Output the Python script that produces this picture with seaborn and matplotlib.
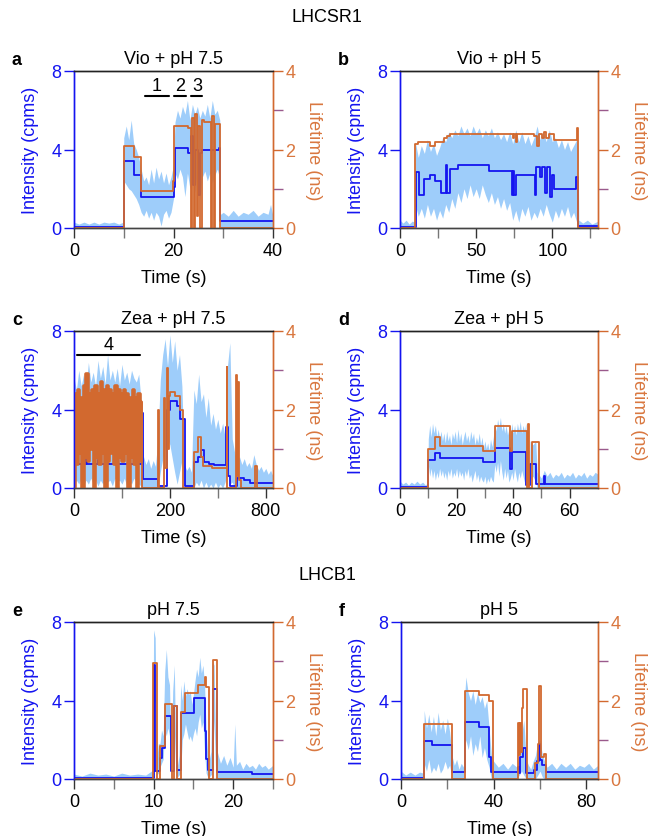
import numpy as np
import matplotlib
matplotlib.use("Agg")
import matplotlib.pyplot as plt
import seaborn as sns

sns.set_style("ticks")
plt.rcParams['font.family'] = ['Liberation Sans', 'DejaVu Sans']
plt.rcParams['text.color'] = 'black'
plt.rcParams['axes.labelcolor'] = 'black'
plt.rcParams['xtick.labelcolor'] = 'black'

LIGHT = "#9ECDFA"
BLUE = "#1414F0"
ORANGE = "#D2692F"
ORANGE_TXT = "#D9773F"
PURPLE = "#9A5A8C"

# ---------------- panel a : Vio + pH 7.5 ----------------
a_noise = [(0, 0, 0.3), (1, 0, 0.2), (2, 0, 0.3), (3, 0, 0.2), (4, 0, 0.3), (5, 0, 0.2), (6, 0, 0.3),
           (7, 0, 0.25), (8, 0, 0.3), (9, 0, 0.2), (9.9, 0, 0.3),
           (10.0, 2.4, 4.6), (10.5, 2.2, 5.2), (11, 2.0, 4.5), (11.5, 1.9, 5.5), (12, 1.7, 4.3),
           (12.5, 1.5, 4.0), (13, 1.2, 3.6), (13.5, 0.8, 3.0), (14, 0.6, 2.4), (14.5, 0.9, 2.6),
           (15, 0.5, 2.2), (15.5, 0.8, 3.0), (16, 0.4, 2.3), (16.5, 0.8, 3.1), (17, 0.6, 2.5),
           (17.5, 0.1, 2.9), (18, 0.7, 2.3), (18.5, 0.9, 2.8), (19, 0.5, 2.2), (19.5, 0.8, 2.6),
           (20, 1.5, 3.2), (20.3, 2.8, 5.4), (20.8, 2.5, 6.0), (21.3, 3.0, 5.6), (21.8, 2.6, 6.2),
           (22.3, 1.6, 5.8), (22.8, 2.8, 6.5), (23.3, 2.0, 5.5), (23.8, 2.6, 6.3), (24.3, 1.8, 5.8),
           (24.8, 2.9, 6.2), (25.3, 1.4, 5.6), (25.8, 2.6, 6.0), (26.3, 2.9, 5.7), (26.8, 2.4, 6.3),
           (27.3, 2.8, 5.6), (27.8, 2.3, 6.5), (28.3, 2.7, 5.8), (28.8, 3.0, 6.0), (29.3, 2.5, 5.5),
           (29.45, 0, 0.7), (30, 0, 0.8), (31, 0, 0.6), (32, 0, 0.9), (33, 0, 0.6), (34, 0, 0.8),
           (35, 0, 0.7), (36, 0, 0.9), (37, 0, 0.6), (38, 0, 0.8), (39, 0, 0.7), (39.5, 0, 1.2), (40, 0, 0.6)]
a_blue_t = [0, 10, 12, 13.5, 20, 20.3, 23, 23.5, 23.9, 24.3, 25.0, 25.3, 25.8, 29.1, 29.4, 40]
a_blue_v = [0.05, 3.4, 2.7, 1.6, 2.1, 4.1, 3.8, 4.7, 2.2, 4.0, 1.7, 3.8, 3.95, 4.1, 0.35, 0.35]
a_or_t = [0, 10, 12, 13.5, 19.8, 20.2, 23, 23.5, 23.8, 24.1, 24.4, 24.7, 25.0, 25.4, 25.8, 26.2,
          27.5, 27.8, 28.1, 28.3, 29.3, 40]
a_or_v = [0, 2.1, 1.8, 0.95, 1.2, 2.6, 2.55, 0, 2.8, 0, 2.9, 0.3, 2.6, 0, 2.75, 2.7,
          0, 2.85, 0, 2.65, 0, 0]

# ---------------- panel b : Vio + pH 5 ----------------
b_noise = [(0, 0, 0.4), (2, 0, 0.25), (4, 0, 0.4), (6, 0, 0.2), (8, 0, 0.35), (9.8, 0, 0.3),
           (10, 1.2, 4.4), (12, 0.6, 3.6), (14, 1.0, 4.2), (16, 0.5, 3.8), (18, 1.2, 4.5),
           (20, 0.6, 3.9), (22, 1.0, 4.3), (24, 0.4, 3.7), (26, 0.9, 4.1), (28, 0.5, 4.6),
           (30, 1.2, 4.4), (32, 0.8, 4.9), (34, 1.5, 4.6), (36, 1.0, 5.0), (38, 1.8, 4.7),
           (40, 1.3, 5.2), (42, 2.0, 4.8), (44, 1.5, 5.1), (46, 2.2, 4.7), (48, 1.6, 5.2),
           (50, 2.0, 4.8), (52, 1.5, 5.1), (54, 2.2, 4.6), (56, 1.7, 5.0), (58, 1.3, 4.7),
           (60, 1.8, 5.1), (62, 1.2, 4.6), (64, 1.6, 4.9), (66, 1.0, 4.5), (68, 1.5, 4.8),
           (70, 0.9, 4.4), (72, 1.3, 4.9), (74, 0.4, 4.3), (76, 0.9, 5.0), (78, 0.3, 4.4),
           (80, 1.0, 4.9), (82, 0.6, 4.3), (84, 1.1, 4.7), (86, 0.4, 4.2), (88, 0.8, 4.6),
           (90, 0.5, 5.2), (92, 1.0, 4.5), (94, 0.6, 4.9), (96, 1.2, 4.4), (98, 0.7, 5.0),
           (100, 0.3, 4.4), (102, 0.9, 4.6), (104, 0.5, 4.1), (106, 1.0, 4.5), (108, 0.6, 4.0),
           (110, 1.1, 4.4), (112, 0.5, 3.9), (114, 0.8, 4.2), (116, 0.3, 4.5), (117, 0.2, 4.0),
           (117.4, 0, 0.4), (120, 0, 0.25), (123, 0, 0.4), (126, 0, 0.2), (130, 0, 0.35)]
b_blue_t = [0, 10.4, 12.4, 15.9, 20, 23.3, 27.2, 30, 31, 32.6, 38, 58.7, 73.5, 74.2, 75, 76, 77,
            88.5, 89.5, 92, 93.5, 95.5, 96.5, 98.5, 99.5, 101, 115.7, 117, 130]
b_blue_v = [0.05, 2.85, 1.7, 2.5, 2.7, 2.4, 1.8, 3.2, 1.8, 3.0, 3.2, 2.9, 1.7, 2.9, 1.7, 2.7, 2.7,
            1.7, 3.1, 2.6, 3.1, 1.8, 3.1, 1.6, 2.7, 2.0, 2.6, 0.1, 0.1]
b_or_t = [0, 10, 12, 20, 23, 29, 31, 33, 74, 75, 76, 77, 78, 88, 89, 90, 91, 93, 94.5, 96, 98, 101,
          116.5, 117, 130]
b_or_v = [0, 2.15, 2.2, 2.1, 2.2, 2.3, 2.35, 2.4, 2.3, 2.4, 2.2, 2.4, 2.4, 2.35, 2.35, 2.1, 2.4, 2.3,
          2.45, 2.3, 2.4, 2.25, 2.55, 0, 0]

# ---------------- panel c : Zea + pH 7.5 ----------------
c_noise = [(0, 0.1, 5.6), (5, 0.4, 5.0), (10, 0.2, 6.0), (15, 0.5, 5.2), (20, 0.1, 5.8), (25, 0.4, 5.1),
           (30, 0.2, 6.4), (35, 0.5, 5.4), (40, 0.2, 5.9), (45, 0.4, 5.2), (50, 0.1, 6.5), (55, 0.4, 5.6),
           (60, 0.2, 6.2), (65, 0.5, 5.3), (70, 0.3, 6.8), (75, 0.4, 5.5), (80, 0.1, 6.0), (85, 0.5, 5.4),
           (90, 0.3, 6.1), (95, 0.4, 5.2), (100, 0.2, 6.3), (105, 0.5, 5.5), (110, 0.1, 5.9),
           (115, 0.4, 5.3), (120, 0.2, 6.0), (125, 0.5, 5.6), (130, 0.3, 5.4), (135, 0.2, 5.8),
           (140, 0.1, 4.4), (145, 0, 1.6), (150, 0, 1.2), (155, 0, 1.5), (160, 0, 1.0), (165, 0, 1.4),
           (170, 0, 1.1), (175, 0, 2.6), (180, 0.8, 5.5), (185, 1.5, 6.8), (190, 2.0, 7.6),
           (195, 2.5, 6.2), (200, 2.2, 7.8), (205, 1.5, 6.4), (210, 0.8, 7.5), (215, 0.2, 6.0),
           (220, 0.8, 6.8), (225, 1.4, 5.2), (230, 0, 1.2), (235, 0, 0.9), (240, 0, 1.1), (245, 0, 0.8),
           (250, 0, 5.0), (255, 0.3, 4.3), (260, 0.1, 5.8), (265, 0.4, 4.4), (270, 0, 4.8),
           (275, 0.3, 3.6), (280, 0, 4.6), (285, 0.2, 3.2), (290, 0, 3.8), (295, 0.3, 3.0),
           (300, 0, 3.5), (305, 0.2, 2.8), (310, 0, 3.3), (315, 0.3, 2.6), (320, 0.8, 6.2),
           (325, 0.2, 7.4), (330, 0.3, 2.5), (335, 0, 1.8), (340, 0, 1.4), (345, 0, 1.6), (350, 0, 1.2),
           (355, 0, 1.5), (360, 0, 1.1), (365, 0, 1.3), (370, 0, 1.0), (375, 0, 1.7), (380, 0, 1.2),
           (385, 0, 0.9), (390, 0, 1.1), (395, 0, 0.8), (400, 0, 1.0), (405, 0, 0.7), (410, 0, 0.9),
           (415, 0, 0.6)]
c_blue_t = [0, 25, 27, 50, 52, 88, 90, 130, 132, 141, 144, 176, 193, 200, 215, 222, 231, 250, 258, 264,
            271, 281, 292, 318, 321, 325, 340, 355, 368, 415]
c_blue_v = [1.2, 1.5, 1.2, 1.45, 1.2, 1.4, 1.2, 1.45, 1.2, 3.8, 0.45, 0.1, 4.0, 4.45, 4.2, 3.5, 0.1, 1.3,
            1.6, 1.95, 1.35, 1.2, 1.15, 3.1, 0.6, 0.1, 0.5, 0.4, 0.25, 0.25]
# fast flickering lifetime in the first 140 s
c_or_dense_t = [0, 2, 5, 8, 11, 14, 17, 20, 23, 26, 29, 32, 35, 38, 41, 44, 47, 50, 53, 56, 59, 62, 65,
                68, 71, 74, 77, 80, 83, 86, 89, 92, 95, 98, 101, 104, 107, 110, 113, 116, 119, 122, 125,
                128, 131, 134, 137, 140]
c_or_dense_v = [0, 2.4, 0.6, 2.5, 0.9, 2.3, 0, 2.6, 0.8, 2.9, 0.7, 2.4, 1.0, 2.5, 0, 2.6, 0.8, 2.4, 0.6,
                2.7, 0.9, 2.5, 0, 2.6, 0.7, 2.5, 0.9, 2.4, 0.6, 2.6, 0, 2.5, 0.8, 2.4, 0.7, 2.5, 0.9, 2.4,
                0, 2.3, 0.8, 2.5, 0.6, 2.3, 0, 2.4, 0.7, 2.2]
c_or_t = [140, 141, 176, 178, 188, 190, 193, 195, 198, 200, 211, 221, 228, 250, 258, 264, 270, 288, 319,
          320, 323, 338, 340, 343, 345, 349, 378, 381, 415]
c_or_v = [2.2, 0, 2.0, 0, 2.3, 0.5, 3.06, 1.0, 2.35, 2.45, 2.34, 2.0, 0, 0.91, 1.3, 0.78, 0.57, 0.5, 3.09,
          0, 0, 2.89, 0.3, 2.7, 0.2, 0, 0.55, 0, 0]

# ---------------- panel d : Zea + pH 5 ----------------
d_noise = [(0, 0, 0.35), (1, 0, 0.2), (2, 0, 0.3), (3, 0, 0.15), (4, 0, 0.3), (5, 0, 0.2), (6, 0, 0.35),
           (7, 0, 0.2), (8, 0, 0.3), (9, 0, 0.15), (9.9, 0, 0.3),
           (10, 1.2, 2.5), (10.5, 0.6, 3.2), (11, 1.0, 2.6), (11.5, 0.5, 3.3), (12, 0.9, 2.8),
           (12.5, 0.4, 3.2), (13, 0.8, 2.6), (13.5, 0.5, 3.0), (14, 1.0, 2.5), (14.5, 0.6, 2.9),
           (15, 0.9, 2.4), (15.5, 0.5, 2.8), (16, 0.8, 2.3), (16.5, 0.4, 2.9), (17, 0.9, 2.4),
           (17.5, 0.6, 2.7), (18, 1.0, 2.2), (18.5, 0.5, 2.8), (19, 0.8, 2.5), (19.5, 0.6, 2.9),
           (20, 1.0, 2.3), (20.5, 0.5, 3.0), (21, 0.9, 2.4), (21.5, 0.6, 2.8), (22, 0.8, 2.2),
           (22.5, 0.4, 2.6), (23, 0.9, 2.9), (23.5, 0.6, 2.4), (24, 1.0, 2.7), (24.5, 0.5, 2.3),
           (25, 0.7, 2.9), (25.5, 0.3, 2.5), (26, 0.6, 2.8), (26.5, 0.9, 2.2), (27, 0.4, 2.6),
           (27.5, 0.7, 2.3), (28, 0.3, 2.8), (28.5, 0.6, 2.2), (29, 0.4, 2.6), (29.5, 0.3, 2.0),
           (30, 0.6, 2.4), (30.5, 0.2, 2.0), (31, 0.5, 2.3), (31.5, 0.3, 1.9), (32, 0.6, 2.5),
           (32.5, 0.4, 2.1), (33, 0.3, 2.6), (33.5, 1.2, 3.3), (34, 0.8, 2.9), (34.5, 1.3, 3.5),
           (35, 0.6, 3.1), (35.5, 1.4, 3.6), (36, 0.8, 2.9), (36.5, 0.4, 3.3), (37, 1.0, 2.8),
           (37.5, 0.5, 3.2), (38, 0.9, 2.7), (38.5, 0.3, 3.0), (39, 0.5, 2.4), (39.5, 0.8, 3.3),
           (40, 0.4, 2.8), (40.5, 1.0, 3.2), (41, 0.6, 2.7), (41.5, 0.3, 3.3), (42, 0.8, 2.9),
           (42.5, 0.5, 3.4), (43, 0.9, 2.8), (43.5, 0.6, 3.2), (44, 0.3, 2.9), (44.5, 0.7, 3.3),
           (45, 0, 0.3), (45.8, 0, 0.3), (46, 0.4, 2.4), (47, 0.6, 2.2), (48, 0.3, 2.4), (48.5, 0, 0.8),
           (49, 0, 0.7), (50, 0, 0.5), (51, 0, 0.9), (52, 0, 0.6), (53, 0, 0.8), (54, 0, 0.5),
           (55, 0, 0.7), (56, 0, 0.6), (57, 0, 0.8), (58, 0, 0.5), (59, 0, 0.7), (60, 0, 0.6),
           (61, 0, 0.8), (62, 0, 0.5), (63, 0, 0.7), (64, 0, 0.6), (65, 0, 0.8), (66, 0, 0.5),
           (67, 0, 0.7), (68, 0, 0.6), (69, 0, 0.8), (70, 0, 0.7)]
d_blue_t = [0, 10, 12.5, 14, 29.5, 33.5, 39, 39.6, 44.5, 46, 48, 51, 51.4, 70]
d_blue_v = [0.05, 1.45, 1.8, 1.55, 1.3, 2.05, 0.95, 1.85, 0.15, 1.2, 0.2, 0.6, 0.2, 0.2]
d_or_t = [0, 10, 12.5, 14, 29.5, 33.5, 39, 39.6, 45, 45.3, 45.6, 46.5, 49, 70]
d_or_v = [0, 1.0, 1.3, 1.07, 0.94, 1.57, 0.95, 1.44, 0, 1.64, 0, 1.17, 0, 0]

# ---------------- panel e : LHCB1 pH 7.5 ----------------
e_noise = [(0, 0, 0.25), (1, 0, 0.15), (2, 0, 0.3), (3, 0, 0.2), (4, 0, 0.25), (5, 0, 0.15), (6, 0, 0.3),
           (7, 0, 0.2), (8, 0, 0.25), (9, 0, 0.2), (9.9, 0, 0.45),
           (10.0, 3.5, 7.6), (10.2, 4.0, 7.2), (10.4, 0.2, 1.0), (10.6, 0.3, 1.8), (10.8, 0.6, 1.8),
           (11.0, 0.8, 2.5), (11.2, 1.0, 2.2), (11.4, 2.5, 5.5), (11.6, 2.2, 6.6), (11.8, 2.6, 5.2),
           (12.0, 2.2, 4.8), (12.2, 0.1, 0.8), (12.4, 2.8, 4.5), (12.6, 2.6, 5.8), (12.8, 0.2, 1.0),
           (13.0, 0.1, 0.7), (13.2, 0.2, 1.2), (13.4, 0.3, 4.8), (13.6, 2.0, 4.0), (13.8, 2.3, 5.0),
           (14.0, 2.8, 4.2), (14.2, 2.4, 4.6), (14.4, 2.0, 4.3), (14.6, 2.2, 4.5), (14.8, 1.9, 3.8),
           (15.0, 2.3, 4.3), (15.2, 2.6, 5.0), (15.4, 2.2, 5.6), (15.6, 2.9, 5.2), (15.8, 3.3, 6.2),
           (16.0, 2.6, 5.4), (16.2, 2.9, 5.8), (16.4, 1.4, 4.8), (16.6, 0.3, 2.5), (16.8, 0.1, 1.2),
           (17.0, 0.1, 1.0), (17.2, 0.2, 1.4), (17.4, 0.3, 6.0), (17.6, 3.0, 5.8), (17.8, 0.3, 1.6),
           (18.0, 0, 1.4), (18.4, 0, 0.8), (18.8, 0, 1.2), (19.2, 0, 0.7), (19.6, 0, 1.1), (20.0, 0, 0.6),
           (20.2, 0, 2.8), (20.4, 0, 0.7), (20.8, 0, 0.9), (21.2, 0, 0.5), (21.6, 0, 0.8), (22.0, 0, 0.6),
           (22.4, 0, 0.7), (22.8, 0, 0.5), (23.2, 0, 0.8), (23.6, 0, 0.6), (24.0, 0, 0.7), (24.4, 0, 0.5),
           (25.0, 0, 0.7)]
e_blue_t = [0, 10, 10.2, 10.8, 11.1, 11.45, 12.2, 12.5, 12.9, 13.5, 15.1, 16.4, 16.6, 16.8, 17.5, 18.0,
            22.4, 25]
e_blue_v = [0.05, 5.8, 0.4, 1.07, 1.6, 3.2, 0.4, 3.73, 0.45, 3.35, 4.15, 2.45, 1.0, 0.47, 4.6, 0.37,
            0.25, 0.25]
e_or_t = [0, 9.9, 10.4, 10.75, 11.4, 12.3, 12.6, 12.9, 13.5, 13.9, 15.6, 16.4, 16.55, 16.9, 17.5, 18.0, 25]
e_or_v = [0, 2.95, 0, 0.85, 1.9, 0, 1.85, 0, 1.7, 2.2, 2.4, 2.6, 2.35, 0, 3.03, 0, 0]

# ---------------- panel f : LHCB1 pH 5 ----------------
f_noise = [(0, 0, 0.4), (2, 0, 0.2), (4, 0, 0.35), (6, 0, 0.2), (8, 0, 0.35), (9.8, 0, 0.3),
           (10, 0.8, 3.5), (11, 0.4, 2.6), (12, 1.0, 3.3), (13, 0.3, 2.4), (14, 0.6, 3.2), (15, 0.4, 2.2),
           (16, 0.8, 3.4), (17, 0.3, 2.5), (18, 0.5, 3.0), (19, 0.9, 2.3), (20, 0.5, 3.1), (21, 0.7, 2.4),
           (22, 0, 1.2), (23, 0, 0.7), (24, 0, 1.0), (25, 0, 0.5), (26, 0, 0.8), (27, 0, 0.6),
           (27.5, 1.5, 4.3), (28, 2.0, 5.2), (29, 1.5, 4.4), (30, 2.2, 4.0), (31, 1.2, 4.5), (32, 1.8, 3.8),
           (33, 1.4, 4.4), (34, 2.2, 3.9), (35, 1.1, 4.2), (36, 1.6, 3.6), (37, 1.0, 4.0), (38, 0.6, 2.6),
           (39, 0, 1.2), (40, 0, 0.9), (42, 0, 0.6), (44, 0, 0.8), (46, 0, 0.5), (48, 0, 0.8), (50, 0, 0.6),
           (51, 0.2, 1.2), (52, 0.4, 2.2), (53, 0.2, 3.0), (54, 0, 1.0), (55, 0, 0.7), (56, 0, 0.5),
           (57, 0, 0.9), (58, 0, 1.2), (59, 0.2, 1.9), (60, 0.4, 2.0), (61, 0.1, 1.2), (62, 0, 0.9),
           (63, 0, 0.6), (65, 0, 0.8), (67, 0, 0.5), (69, 0, 0.8), (71, 0, 0.6), (73, 0, 0.8), (75, 0, 0.5),
           (77, 0, 0.7), (79, 0, 0.6), (81, 0, 0.8), (83, 0, 0.5), (85, 0, 0.7)]
f_blue_t = [0, 10, 13.5, 22, 27.5, 33.5, 38, 39, 50.5, 51, 51.5, 52.5, 54, 57.5, 58.5, 59.5, 60, 61, 62.5, 85]
f_blue_v = [0.05, 1.93, 1.73, 0.35, 2.92, 2.63, 1.1, 0.35, 0.6, 0.3, 1.1, 1.6, 0.3, 0.45, 0.9, 1.8, 0.97,
            0.7, 0.34, 0.34]
f_or_t = [0, 10, 22, 27.5, 33.5, 38, 39.5, 50.5, 50.9, 51.2, 51.6, 52, 52.6, 54.3, 58, 59, 59.5, 60.5,
          61.5, 62.5, 85]
f_or_v = [0, 1.4, 0, 2.23, 2.14, 1.99, 0, 1.42, 0.6, 1.42, 0.7, 1.8, 2.29, 0, 0.42, 0.9, 2.36, 0.55,
          0.64, 0, 0]

# annotation bars (time span, level in cpms, label)
a_marks = [((14.2, 19.0), 6.75, "1"), ((20.2, 22.5), 6.75, "2"), ((23.6, 25.8), 6.75, "3")]
c_marks = [((7, 138), 6.78, "4")]


def panel(rect, letter, title, noise, bt, bv, ot, ov, xmax, major, labels, minor, marks=(), dense=None):
    ax = fig.add_axes(rect)
    nz = np.array(noise).T
    ax.fill_between(nz[0], nz[1], nz[2], color=LIGHT, lw=0)
    sns.lineplot(x=bt, y=bv, ax=ax, color=BLUE, lw=1.3, drawstyle="steps-post",
                 estimator=None, sort=False)
    ax.set_xlim(0, xmax)
    ax.set_ylim(0, 8)
    ax.set_yticks([0, 4, 8])
    ax.set_xticks(major)
    ax.set_xticklabels(labels)
    ax.set_xticks(minor, minor=True)
    ax.tick_params(axis="x", which="major", length=7, width=1, color="#333333", labelsize=13, pad=3)
    ax.tick_params(axis="x", which="minor", length=7, width=1, color="#777777")
    ax.tick_params(axis="y", length=7, width=1, color=BLUE, labelcolor=BLUE, labelsize=13, pad=2)
    ax.set_xlabel("Time (s)", fontsize=13, labelpad=7)
    ax.set_ylabel("Intensity (cpms)", fontsize=13, color=BLUE, labelpad=9)
    ax.set_title(title, fontsize=13, pad=6)
    for (x0, x1), yv, txt in marks:
        ax.plot([x0, x1], [yv, yv], color="black", lw=1.5)
        ax.text((x0 + x1) / 2, yv + 0.1, txt, ha="center", va="bottom", fontsize=13)

    ax2 = ax.twinx()
    if dense is not None:
        sns.lineplot(x=dense[0], y=dense[1], ax=ax2, color=ORANGE, lw=2.6, drawstyle="steps-post",
                     estimator=None, sort=False)
    sns.lineplot(x=ot, y=ov, ax=ax2, color=ORANGE, lw=1.3, drawstyle="steps-post",
                 estimator=None, sort=False)
    ax2.set_ylim(0, 4)
    ax2.set_yticks([0, 2, 4])
    ax2.set_yticks([1, 3], minor=True)
    ax2.tick_params(axis="y", which="major", length=7, width=1, color=ORANGE, labelcolor=ORANGE_TXT,
                    labelsize=13, pad=2)
    ax2.tick_params(axis="y", which="minor", length=7, width=1, color=PURPLE)
    ax2.set_ylabel("Lifetime (ns)", fontsize=13, color=ORANGE_TXT, rotation=270, labelpad=19)
    for a in (ax, ax2):
        a.spines["left"].set_color(BLUE)
        a.spines["right"].set_color(ORANGE)
        a.spines["top"].set_color("#222222")
        a.spines["bottom"].set_color("#444444")
        for s in a.spines.values():
            s.set_linewidth(1)
    fig.text(rect[0] - 0.095, rect[1] + rect[3] + 0.004, letter, fontsize=13, fontweight="bold",
             va="bottom")
    return ax, ax2


fig = plt.figure(figsize=(6.53, 8.37), dpi=100)
W, H = 653, 837


def r(x0, y_top, w=199, h=157):
    return [x0 / W, 1 - (y_top + h) / H, w / W, h / H]


fig.text(327 / W, 1 - 18 / H, "LHCSR1", ha="center", va="center", fontsize=13)
fig.text(327 / W, 1 - 576 / H, "LHCB1", ha="center", va="center", fontsize=13)

panel(r(74, 72), "a", "Vio + pH 7.5", a_noise, a_blue_t, a_blue_v, a_or_t, a_or_v,
      40, [0, 20, 40], ["0", "20", "40"], [10, 30], a_marks)
panel(r(400, 72, 198), "b", "Vio + pH 5", b_noise, b_blue_t, b_blue_v, b_or_t, b_or_v,
      130, [0, 50, 100], ["0", "50", "100"], [25, 75, 125])
panel(r(74, 332), "c", "Zea + pH 7.5", c_noise, c_blue_t, c_blue_v, c_or_t, c_or_v,
      415, [0, 200, 400], ["0", "200", "800"], [100, 300], c_marks, dense=(c_or_dense_t, c_or_dense_v))
panel(r(400, 332, 198), "d", "Zea + pH 5", d_noise, d_blue_t, d_blue_v, d_or_t, d_or_v,
      70, [0, 20, 40, 60], ["0", "20", "40", "60"], [10, 30, 50])
panel(r(74, 623), "e", "pH 7.5", e_noise, e_blue_t, e_blue_v, e_or_t, e_or_v,
      25, [0, 10, 20], ["0", "10", "20"], [5, 15, 25])
panel(r(401, 623, 197), "f", "pH 5", f_noise, f_blue_t, f_blue_v, f_or_t, f_or_v,
      85, [0, 40, 80], ["0", "40", "80"], [20, 60])

fig.savefig("out.png", dpi=100)
